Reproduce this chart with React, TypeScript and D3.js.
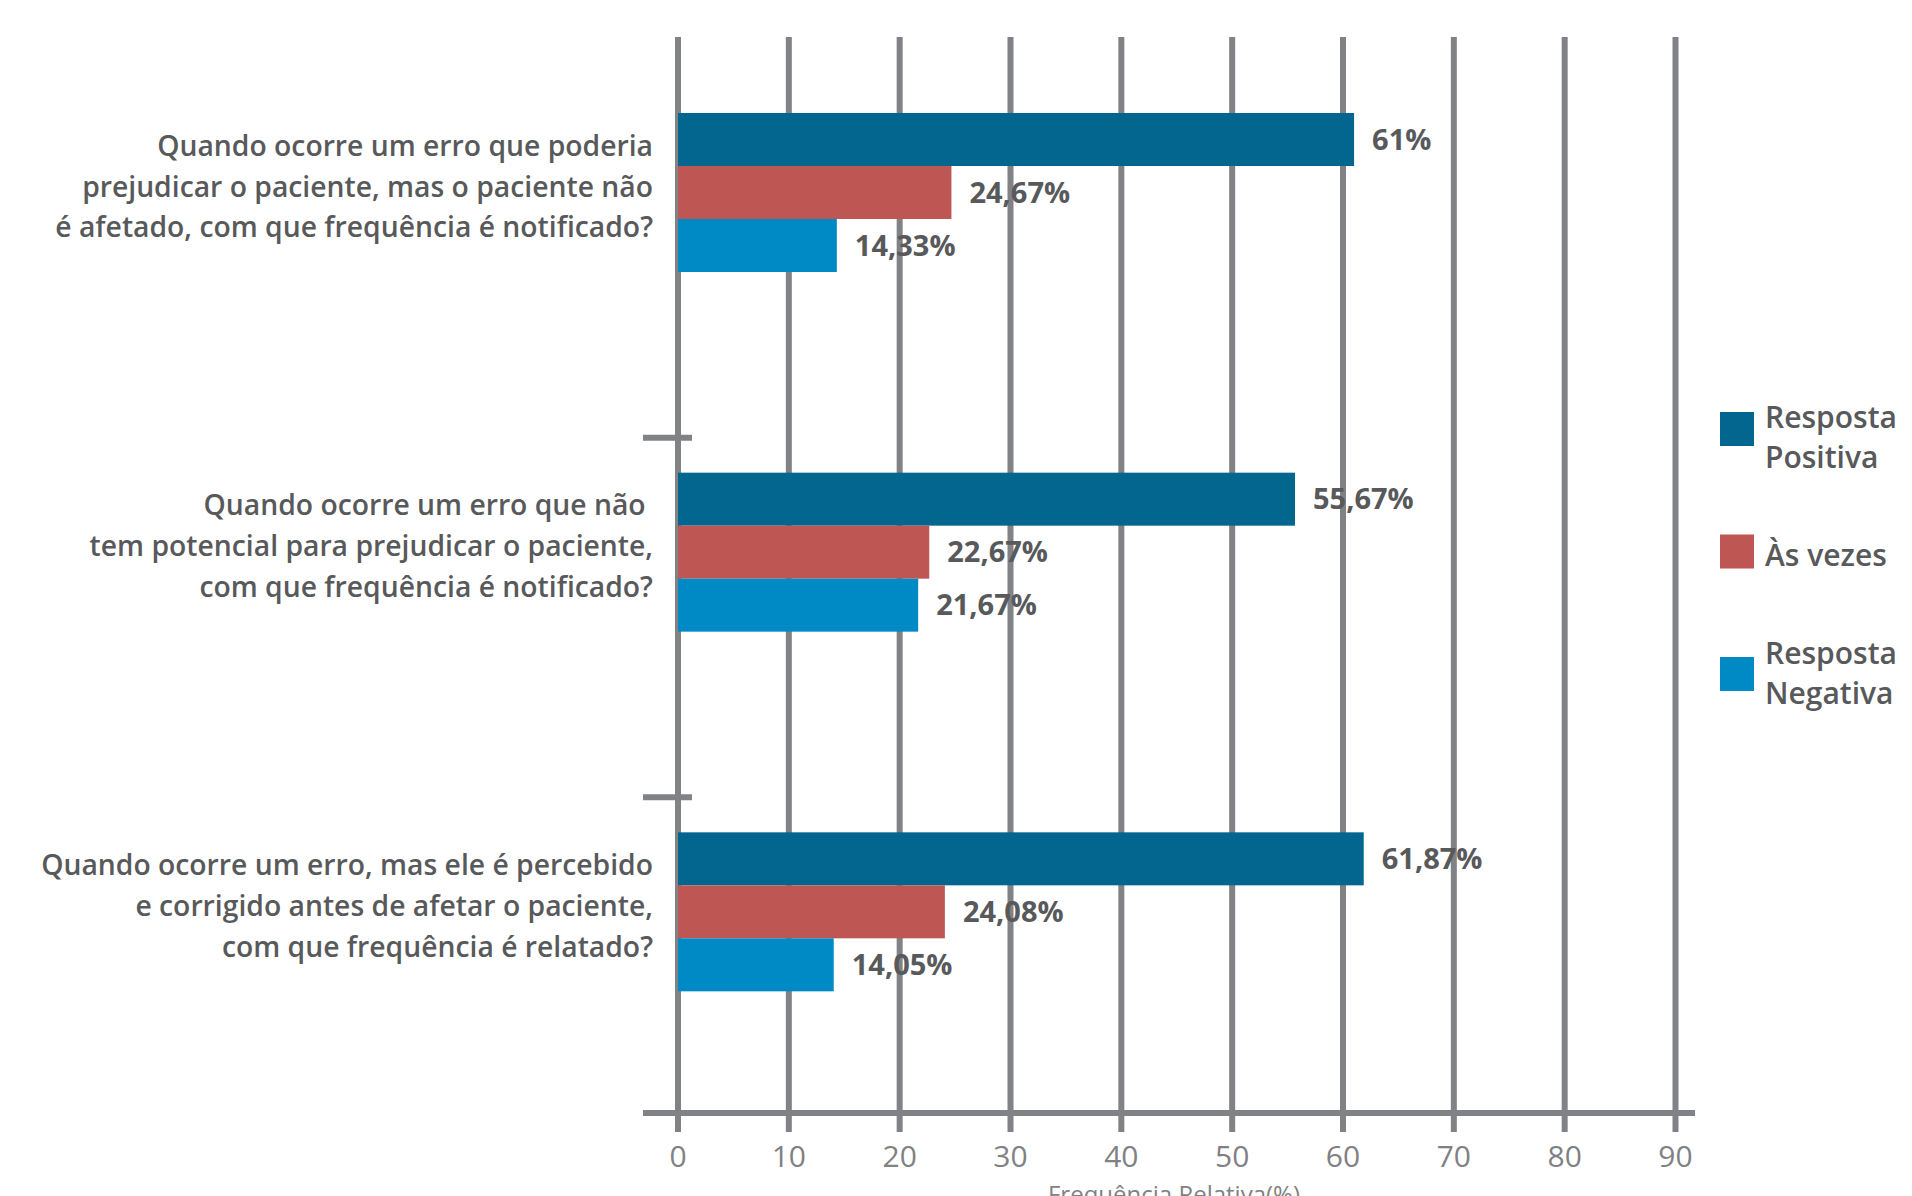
import React from "react";
import * as d3 from "d3";

const questionIds = ["Q1", "Q2", "Q3"];
const questionLines = [
  ["Quando ocorre um erro que poderia", "prejudicar o paciente, mas o paciente não", "é afetado, com que frequência é notificado?"],
  ["Quando ocorre um erro que não ", "tem potencial para prejudicar o paciente,", "com que frequência é notificado?"],
  ["Quando ocorre um erro, mas ele é percebido", "e corrigido antes de afetar o paciente,", "com que frequência é relatado?"],
];
const seriesKeys = ["positiva", "asvezes", "negativa"];
const seriesLabels = [["Resposta", "Positiva"], ["Às vezes"], ["Resposta", "Negativa"]];
const seriesColors = ["#02668F", "#BE5654", "#008AC5"];
const positiva = [61, 55.67, 61.87];
const asVezes = [24.67, 22.67, 24.08];
const negativa = [14.33, 21.67, 14.05];
const xTicks = [0, 10, 20, 30, 40, 50, 60, 70, 80, 90];
const axisTitle = "Frequência Relativa(%)";

const W = 1912;
const H = 1196;
const GRID = "#818285";
const TEXT = "#58595B";
const FONT = "'Open Sans', 'Noto Sans', sans-serif";

const fmt = (v: number) => (Number.isInteger(v) ? String(v) : v.toFixed(2).replace(".", ",")) + "%";

export default function App() {
  const x = d3.scaleLinear().domain([0, 90]).range([678, 1675.5]);
  const y0 = d3.scaleBand<string>().domain(questionIds).range([78, 1157]).paddingInner(0);
  const groupOffset = 35;
  const y1 = d3.scaleBand<string>().domain(seriesKeys).range([0, 159]);
  const values = [positiva, asVezes, negativa];
  const axisY = 1113;

  return (
    <svg
      width={W}
      height={H}
      style={{ position: "fixed", left: 0, top: 0, display: "block", background: "#fff" }}
    >
      <rect x={0} y={0} width={W} height={H} fill="#fff" />
      {xTicks.map((t) => (
        <line key={"g" + t} x1={x(t)} x2={x(t)} y1={37} y2={1132} stroke={GRID} strokeWidth={6} />
      ))}
      {questionIds.slice(1).map((q) => (
        <line key={"s" + q} x1={643} x2={692} y1={y0(q)!} y2={y0(q)!} stroke={GRID} strokeWidth={6} />
      ))}
      {questionIds.map((q, qi) =>
        seriesKeys.map((s, si) => {
          const v = values[si][qi];
          const top = (y0(q) as number) + groupOffset + (y1(s) as number);
          return (
            <rect
              key={q + s}
              x={x(0)}
              y={top}
              width={x(v) - x(0)}
              height={y1.bandwidth()}
              fill={seriesColors[si]}
            />
          );
        })
      )}
      <line x1={643} x2={1695} y1={axisY} y2={axisY} stroke={GRID} strokeWidth={6} />
      {xTicks.map((t) => (
        <text
          key={"t" + t}
          x={x(t)}
          y={1167}
          textAnchor="middle"
          fontFamily={FONT}
          fontSize={30}
          fill="#808184"
        >
          {t}
        </text>
      ))}
      <text x={1174} y={1203} textAnchor="middle" fontFamily={FONT} fontSize={24} fill="#808184">
        {axisTitle}
      </text>
      {questionIds.map((q, qi) =>
        seriesKeys.map((s, si) => {
          const v = values[si][qi];
          const cy = (y0(q) as number) + groupOffset + (y1(s) as number) + y1.bandwidth() / 2;
          return (
            <text
              key={"v" + q + s}
              x={x(v) + 18}
              y={cy + 10}
              fontFamily={FONT}
              fontWeight={700}
              fontSize={29}
              fill={TEXT}
            >
              {fmt(v)}
            </text>
          );
        })
      )}
      {questionIds.map((q, qi) => {
        const center = (y0(q) as number) + groupOffset + 159 / 2 - 6;
        return (
          <g key={"q" + q}>
            {questionLines[qi].map((line, li) => (
              <text
                key={li}
                x={653}
                y={center + (li - 1) * 40.8 + 10}
                textAnchor="end"
                fontFamily={FONT}
                fontWeight={600}
                fontSize={28.3}
                fill={TEXT}
                style={{ whiteSpace: "pre" }}
              >
                {line}
              </text>
            ))}
          </g>
        );
      })}
      {seriesKeys.map((s, si) => {
        const top = 412 + si * 122.5;
        const mid = 448 + si * 117.75;
        const lines = seriesLabels[si];
        return (
          <g key={"l" + s}>
            <rect x={1720} y={top} width={34} height={34} fill={seriesColors[si]} />
            {lines.map((ln, li) => (
              <text
                key={li}
                x={1765}
                y={lines.length === 1 ? mid : mid - 20 + li * 40}
                fontFamily={FONT}
                fontWeight={600}
                fontSize={30}
                fill={TEXT}
              >
                {ln}
              </text>
            ))}
          </g>
        );
      })}
    </svg>
  );
}
